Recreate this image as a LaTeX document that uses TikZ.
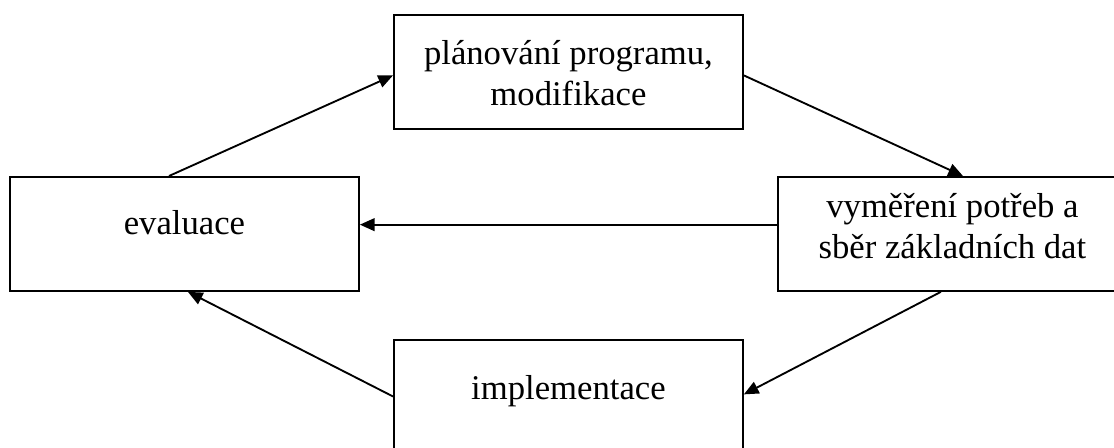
\documentclass[tikz,border=0pt]{standalone}
\usepackage{fontspec}
\setmainfont{Liberation Serif}
\usetikzlibrary{arrows.meta,calc}

\tikzset{
  stagebox/.style={draw, line width=1.4pt, anchor=north west, inner sep=0pt,
    minimum width=261.75pt, minimum height=85.5pt},
  stagetext/.style={inner sep=0pt, align=center,
    font=\fontsize{26pt}{30.5pt}\selectfont},
  flow/.style={line width=1.4pt, -{Triangle[length=11pt,width=9.5pt]}}
}

\begin{document}
\begin{tikzpicture}[x=0.75pt, y=-0.75pt]
  \useasboundingbox (0,0) rectangle (1114,448);
  \clip (0,0) rectangle (1114,448);

  % the four stages of the cycle
  \node[stagebox, label={[stagetext, name=plant, yshift=-1pt]center:plánování programu,\\modifikace}]
    (plan) at (393,14) {};
  \node[stagebox, label={[stagetext, name=evalt, yshift=8.5pt]center:evaluace}]
    (eval) at (9,176) {};
  \node[stagebox, label={[stagetext, name=needt, yshift=6pt]center:vyměření potřeb a\\sběr základních dat}]
    (need) at (777,176) {};
  \node[stagebox, label={[stagetext, name=implt, yshift=4pt]center:implementace}]
    (impl) at (393,339) {};

  % connectors between the stages
  \draw[flow] ($(eval.north west)!0.456!(eval.north east)$)
           -- ($(plan.north west)!0.53!(plan.south west)$);
  \draw[flow] ($(plan.north east)!0.53!(plan.south east)$)
           -- ($(need.north west)!0.53!(need.north east)$);
  \draw[flow] ($(need.north west)!0.42!(need.south west)$)
           -- ($(eval.north east)!0.42!(eval.south east)$);
  \draw[flow] ($(need.south west)!0.467!(need.south east)$)
           -- ($(impl.north east)!0.478!(impl.south east)$);
  \draw[flow] ($(impl.north west)!0.496!(impl.south west)$)
           -- ($(eval.south west)!0.51!(eval.south east)$);
\end{tikzpicture}
\end{document}
